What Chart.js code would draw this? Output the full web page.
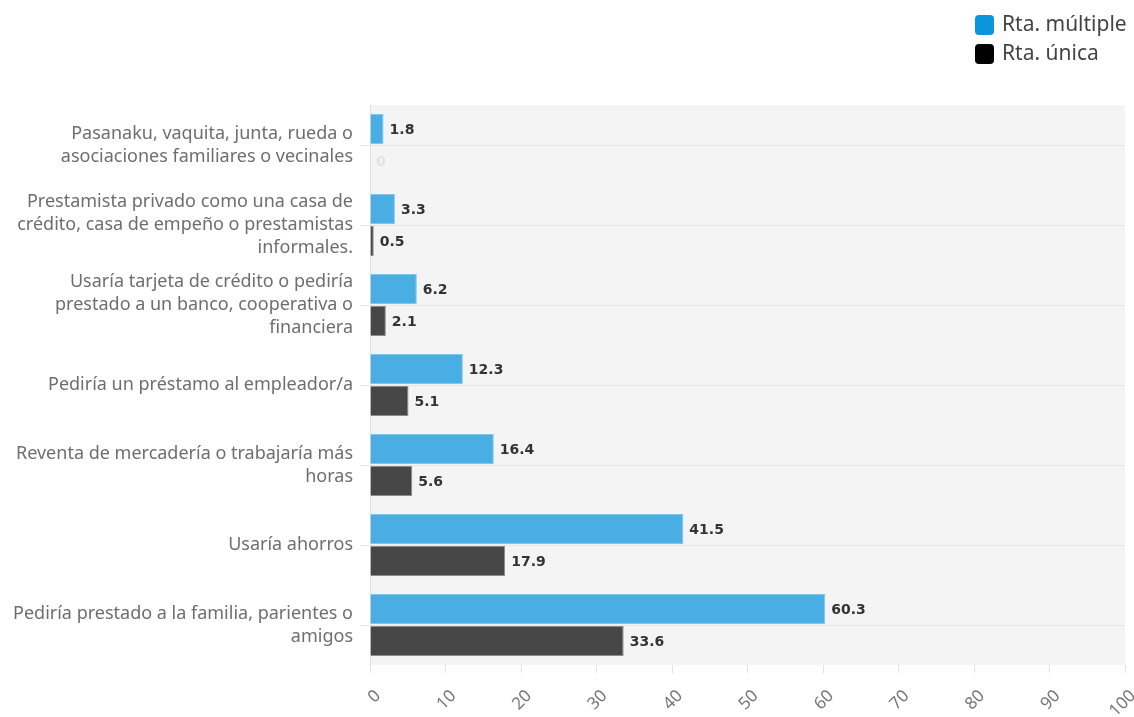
<!DOCTYPE html>
<html>
<head>
<meta charset="utf-8">
<script src="https://cdn.jsdelivr.net/npm/chart.js@4/dist/chart.umd.min.js"></script>
<style>
  html, body { margin: 0; padding: 0; background: #fff; }
  #wrap { width: 1134px; height: 717px; position: relative; }
</style>
</head>
<body>
<div id="wrap"><canvas id="myBarChart"></canvas></div>
<script>
const categories = [
    ['Pasanaku, vaquita, junta, rueda o', 'asociaciones familiares o vecinales'],
    ['Prestamista privado como una casa de', 'crédito, casa de empeño o prestamistas', 'informales.'],
    ['Usaría tarjeta de crédito o pediría', 'prestado a un banco, cooperativa o', 'financiera'],
    'Pediría un préstamo al empleador/a',
    ['Reventa de mercadería o trabajaría más', 'horas'],
    'Usaría ahorros',
    ['Pediría prestado a la familia, parientes o', 'amigos']
];
const seriesNames = ['Rta. múltiple', 'Rta. única'];
const multiple = [1.8, 3.3, 6.2, 12.3, 16.4, 41.5, 60.3];
const unica = [0, 0.5, 2.1, 5.1, 5.6, 17.9, 33.6];
const xTicks = [0, 10, 20, 30, 40, 50, 60, 70, 80, 90, 100];

const labelFont = '"Noto Sans", Lato, sans-serif';
const legendColors = ['#0b95db', '#000000'];

// grey panel behind the bars
const panelBg = {
    id: 'panelBg',
    beforeDraw(chart) {
        const {ctx, chartArea: a} = chart;
        ctx.save();
        ctx.fillStyle = '#f4f4f4';
        ctx.fillRect(a.left, a.top, a.right - a.left, a.bottom - a.top);
        ctx.restore();
    }
};

// numbers at the end of each bar
const barValues = {
    id: 'barValues',
    afterDatasetsDraw(chart) {
        const ctx = chart.ctx;
        ctx.save();
        ctx.font = 'bold 14px "DejaVu Sans", Verdana, sans-serif';
        ctx.textBaseline = 'middle';
        ctx.textAlign = 'left';
        chart.data.datasets.forEach(function (ds, i) {
            chart.getDatasetMeta(i).data.forEach(function (bar, j) {
                const v = ds.data[j];
                ctx.fillStyle = v === 0 ? '#e2e2e2' : '#333333';
                ctx.fillText(v === 0 ? '0' : v.toFixed(1), bar.x + 6, bar.y + 1);
            });
        });
        ctx.restore();
    }
};

// stacked legend in the top right corner
const cornerLegend = {
    id: 'cornerLegend',
    afterDraw(chart) {
        const ctx = chart.ctx;
        ctx.save();
        ctx.font = '21px ' + labelFont;
        ctx.textBaseline = 'middle';
        ctx.textAlign = 'left';
        chart.data.datasets.forEach(function (ds, i) {
            const y = 25 + i * 29;
            ctx.fillStyle = legendColors[i];
            ctx.beginPath();
            ctx.roundRect(975, y - 10, 19, 20, 4);
            ctx.fill();
            ctx.fillStyle = '#444444';
            ctx.fillText(ds.label, 1002, y);
        });
        ctx.restore();
    }
};

const ctx = document.getElementById('myBarChart').getContext('2d');
new Chart(ctx, {
    type: 'bar',
    data: {
        labels: categories,
        datasets: [{
            label: seriesNames[0],
            data: multiple,
            backgroundColor: '#49aee3',
            borderColor: '#7fc7ee',
            borderWidth: 1
        }, {
            label: seriesNames[1],
            data: unica,
            backgroundColor: '#474747',
            borderColor: '#8c8c8c',
            borderWidth: 1
        }]
    },
    options: {
        indexAxis: 'y',
        responsive: true,
        maintainAspectRatio: false,
        animation: false,
        categoryPercentage: 0.8,
        barPercentage: 0.94,
        layout: { padding: { top: 105, right: 0, left: 0, bottom: 0 } },
        plugins: {
            legend: { display: false },
            tooltip: { enabled: false }
        },
        scales: {
            x: {
                min: 0,
                max: 100,
                afterBuildTicks(scale) {
                    scale.ticks = xTicks.map(v => ({ value: v }));
                },
                afterFit(scale) {
                    scale.height = 52;
                    scale.paddingRight = 9;
                },
                border: { display: false },
                grid: {
                    drawOnChartArea: false,
                    drawTicks: true,
                    tickLength: 8,
                    color: '#e2e2e2'
                },
                ticks: {
                    autoSkip: false,
                    minRotation: 45,
                    maxRotation: 45,
                    padding: 13,
                    labelOffset: 8,
                    color: '#777777',
                    font: { family: labelFont, size: 17 }
                }
            },
            y: {
                afterFit(scale) { scale.width = 370; },
                border: { display: true, color: '#dddddd' },
                grid: {
                    offset: false,
                    color: '#e6e6e6',
                    tickLength: 10
                },
                ticks: {
                    padding: 7,
                    color: '#6e6e6e',
                    font: { family: labelFont, size: 18, lineHeight: 1.28 }
                }
            }
        }
    },
    plugins: [panelBg, barValues, cornerLegend]
});
</script>
</body>
</html>
